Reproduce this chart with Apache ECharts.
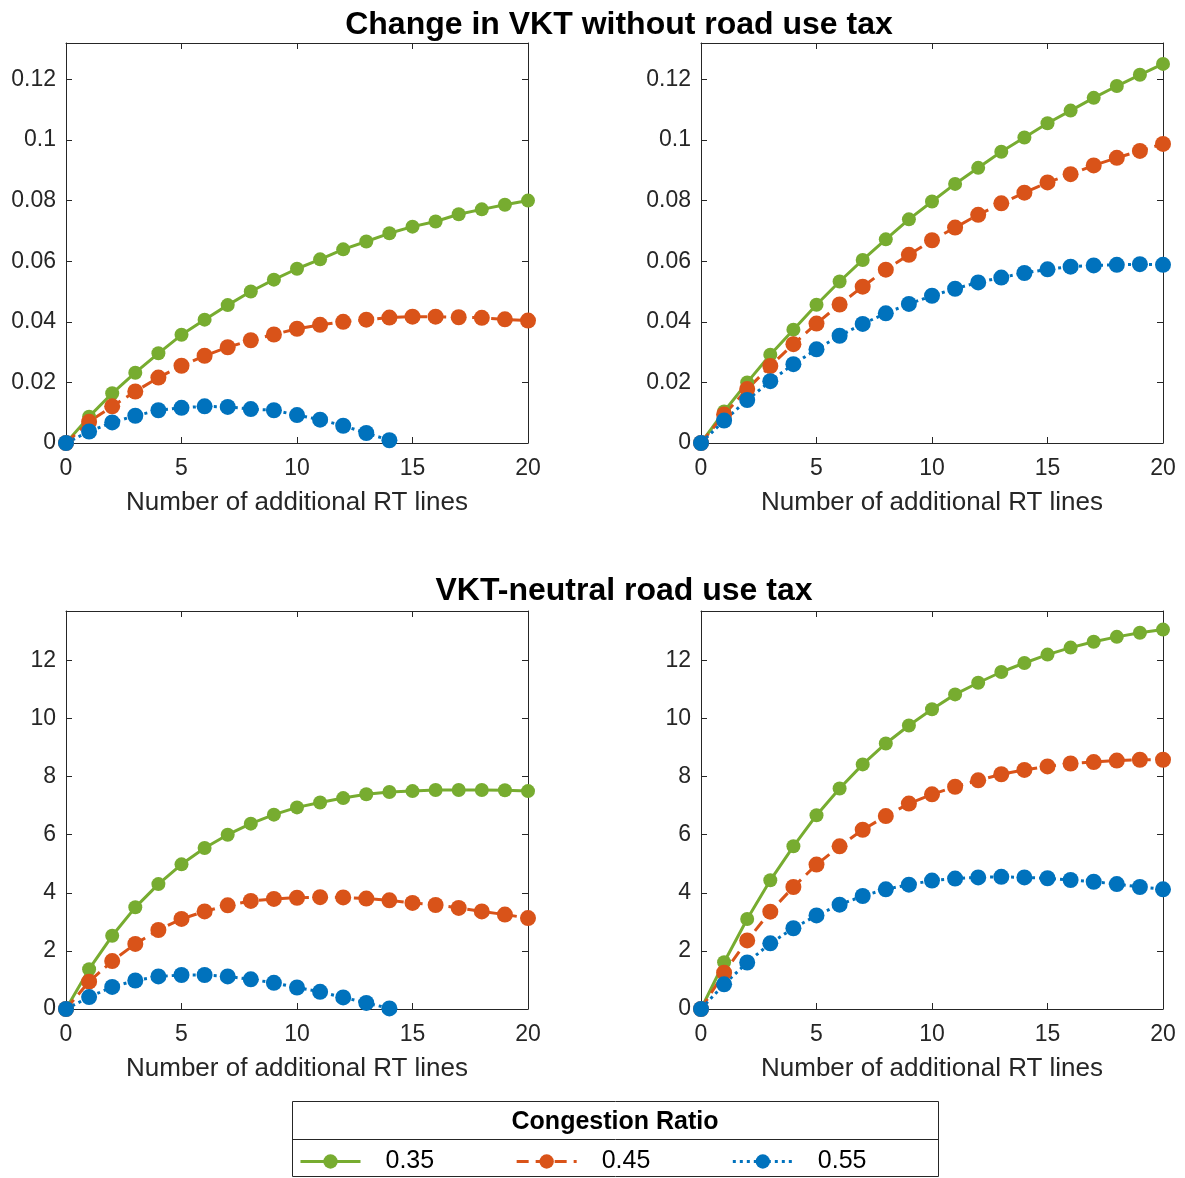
<!DOCTYPE html>
<html>
<head>
<meta charset="utf-8">
<script src="https://cdn.jsdelivr.net/npm/echarts@6/dist/echarts.min.js"></script>
<style>
  html, body { margin: 0; padding: 0; background: #fff; }
  #main { width: 1185px; height: 1178px; }
</style>
</head>
<body>
<div id="main"></div>
<script>
// x values: number of additional RT lines
const lines = [0, 1, 2, 3, 4, 5, 6, 7, 8, 9, 10, 11, 12, 13, 14, 15, 16, 17, 18, 19, 20];
const ratioNames = ['0.35', '0.45', '0.55'];

// change in VKT without road use tax (left / right panels)
const vktLeft035 = [0, 0.0087, 0.0164, 0.0232, 0.0296, 0.0357, 0.0407, 0.0455, 0.0500, 0.0539, 0.0575, 0.0606, 0.0639, 0.0665, 0.0692, 0.0714, 0.0731, 0.0755, 0.0771, 0.0786, 0.0800];
const vktLeft045 = [0, 0.0070, 0.0121, 0.0170, 0.0216, 0.0255, 0.0288, 0.0316, 0.0339, 0.0358, 0.0377, 0.0390, 0.0400, 0.0407, 0.0414, 0.0417, 0.0417, 0.0415, 0.0413, 0.0408, 0.0404];
const vktLeft055 = [0, 0.0038, 0.0068, 0.0090, 0.0108, 0.0116, 0.0121, 0.0119, 0.0112, 0.0108, 0.0092, 0.0077, 0.0057, 0.0033, 0.0009];

const vktRight035 = [0, 0.0104, 0.0200, 0.0291, 0.0374, 0.0456, 0.0533, 0.0604, 0.0672, 0.0738, 0.0797, 0.0855, 0.0908, 0.0961, 0.1008, 0.1055, 0.1097, 0.1139, 0.1178, 0.1215, 0.1251];
const vktRight045 = [0, 0.0094, 0.0178, 0.0254, 0.0326, 0.0394, 0.0457, 0.0516, 0.0572, 0.0621, 0.0669, 0.0711, 0.0753, 0.0791, 0.0826, 0.0860, 0.0887, 0.0916, 0.0941, 0.0964, 0.0987];
const vktRight055 = [0, 0.0074, 0.0142, 0.0204, 0.0260, 0.0309, 0.0354, 0.0393, 0.0428, 0.0459, 0.0486, 0.0509, 0.0530, 0.0546, 0.0561, 0.0573, 0.0582, 0.0586, 0.0588, 0.0590, 0.0588];

// VKT-neutral road use tax (left / right panels)
const taxLeft035 = [0, 1.37, 2.52, 3.50, 4.30, 4.98, 5.54, 6.00, 6.38, 6.69, 6.94, 7.11, 7.26, 7.39, 7.47, 7.50, 7.54, 7.54, 7.54, 7.53, 7.50];
const taxLeft045 = [0, 0.94, 1.65, 2.24, 2.72, 3.10, 3.36, 3.57, 3.72, 3.79, 3.83, 3.85, 3.84, 3.80, 3.74, 3.65, 3.58, 3.48, 3.36, 3.25, 3.13];
const taxLeft055 = [0, 0.41, 0.76, 0.98, 1.12, 1.17, 1.17, 1.12, 1.02, 0.90, 0.74, 0.59, 0.40, 0.21, 0.02];

const taxRight035 = [0, 1.61, 3.10, 4.43, 5.60, 6.67, 7.59, 8.42, 9.14, 9.76, 10.32, 10.83, 11.23, 11.60, 11.91, 12.20, 12.44, 12.64, 12.81, 12.95, 13.06];
const taxRight045 = [0, 1.25, 2.36, 3.35, 4.20, 4.97, 5.60, 6.17, 6.64, 7.07, 7.39, 7.65, 7.87, 8.08, 8.23, 8.35, 8.45, 8.50, 8.55, 8.58, 8.58];
const taxRight055 = [0, 0.85, 1.60, 2.26, 2.78, 3.22, 3.59, 3.89, 4.12, 4.28, 4.42, 4.49, 4.53, 4.55, 4.53, 4.50, 4.44, 4.38, 4.30, 4.20, 4.12];

const colors = ['#77AC30', '#D95319', '#0072BD'];
const dashes = ['solid', [12, 7], [3, 4]];
const symSizes = [14, 16, 16];
const axisColor = '#262626';
const font = 'Liberation Sans, Arial, sans-serif';

const panels = [
  { left: 66, top: 43, height: 400, yMax: 0.132, yStep: 0.02, data: [vktLeft035, vktLeft045, vktLeft055] },
  { left: 701, top: 43, height: 400, yMax: 0.132, yStep: 0.02, data: [vktRight035, vktRight045, vktRight055] },
  { left: 66, top: 611, height: 398, yMax: 13.7, yStep: 2, data: [taxLeft035, taxLeft045, taxLeft055] },
  { left: 701, top: 611, height: 398, yMax: 13.7, yStep: 2, data: [taxRight035, taxRight045, taxRight055] }
];

const grid = [], xAxis = [], yAxis = [], series = [];
panels.forEach((p, i) => {
  grid.push({ left: p.left, top: p.top, width: 462, height: p.height });
  const tick = { show: true, inside: true, length: 6, lineStyle: { color: axisColor } };
  const line = { show: true, onZero: false, lineStyle: { color: axisColor, width: 1 } };
  xAxis.push({
    type: 'value', gridIndex: i, min: 0, max: 20, interval: 5,
    axisLine: line, axisTick: tick, splitLine: { show: false },
    axisLabel: { fontSize: 23, color: axisColor, fontFamily: font, margin: 14 },
    name: 'Number of additional RT lines', nameLocation: 'middle', nameGap: 47,
    nameTextStyle: { fontSize: 26, color: axisColor, fontFamily: font }
  });
  xAxis.push({
    type: 'value', gridIndex: i, min: 0, max: 20, interval: 5, position: 'top',
    axisLine: line, axisTick: tick, splitLine: { show: false }, axisLabel: { show: false }
  });
  yAxis.push({
    type: 'value', gridIndex: i, min: 0, max: p.yMax, interval: p.yStep,
    axisLine: line, axisTick: tick, splitLine: { show: false },
    axisLabel: { fontSize: 23, color: axisColor, fontFamily: font, margin: 10, showMaxLabel: false }
  });
  yAxis.push({
    type: 'value', gridIndex: i, min: 0, max: p.yMax, interval: p.yStep, position: 'right',
    axisLine: line, axisTick: tick, splitLine: { show: false }, axisLabel: { show: false }
  });
  p.data.forEach((vals, k) => {
    series.push({
      name: ratioNames[k],
      type: 'line',
      xAxisIndex: i * 2,
      yAxisIndex: i * 2,
      data: vals.map((v, j) => [lines[j], v]),
      symbol: 'circle',
      symbolSize: symSizes[k],
      showAllSymbol: true,
      color: colors[k],
      lineStyle: { width: 3, type: dashes[k], color: colors[k] },
      itemStyle: { color: colors[k] },
      animation: false
    });
  });
});

const chart = echarts.init(document.getElementById('main'));
chart.setOption({
  backgroundColor: '#fff',
  animation: false,
  title: [
    { text: 'Change in VKT without road use tax', left: 614, top: 4, textAlign: 'center',
      textStyle: { fontSize: 32, fontWeight: 'bold', color: '#000', fontFamily: font } },
    { text: 'VKT-neutral road use tax', left: 619, top: 570, textAlign: 'center',
      textStyle: { fontSize: 32, fontWeight: 'bold', color: '#000', fontFamily: font } }
  ],
  legend: {
    data: ratioNames,
    left: 299, top: 1149, padding: 0,
    itemWidth: 60, itemHeight: 18, itemGap: 81,
    lineStyle: { width: 3 },
    textStyle: { fontSize: 25, color: '#000', fontFamily: font, padding: [0, 0, 0, 20] }
  },
  graphic: [
    { type: 'rect', shape: { x: 292.5, y: 1101.5, width: 646, height: 75 },
      style: { fill: 'none', stroke: axisColor, lineWidth: 1 } },
    { type: 'line', shape: { x1: 292.5, y1: 1139.5, x2: 938.5, y2: 1139.5 },
      style: { stroke: axisColor, lineWidth: 1 } },
    { type: 'text', x: 615, y: 1122,
      style: { text: 'Congestion Ratio', fontSize: 25, fontWeight: 'bold', fill: '#000',
        fontFamily: font, textAlign: 'center', textVerticalAlign: 'middle' } }
  ],
  grid: grid,
  xAxis: xAxis,
  yAxis: yAxis,
  series: series
});
</script>
</body>
</html>
